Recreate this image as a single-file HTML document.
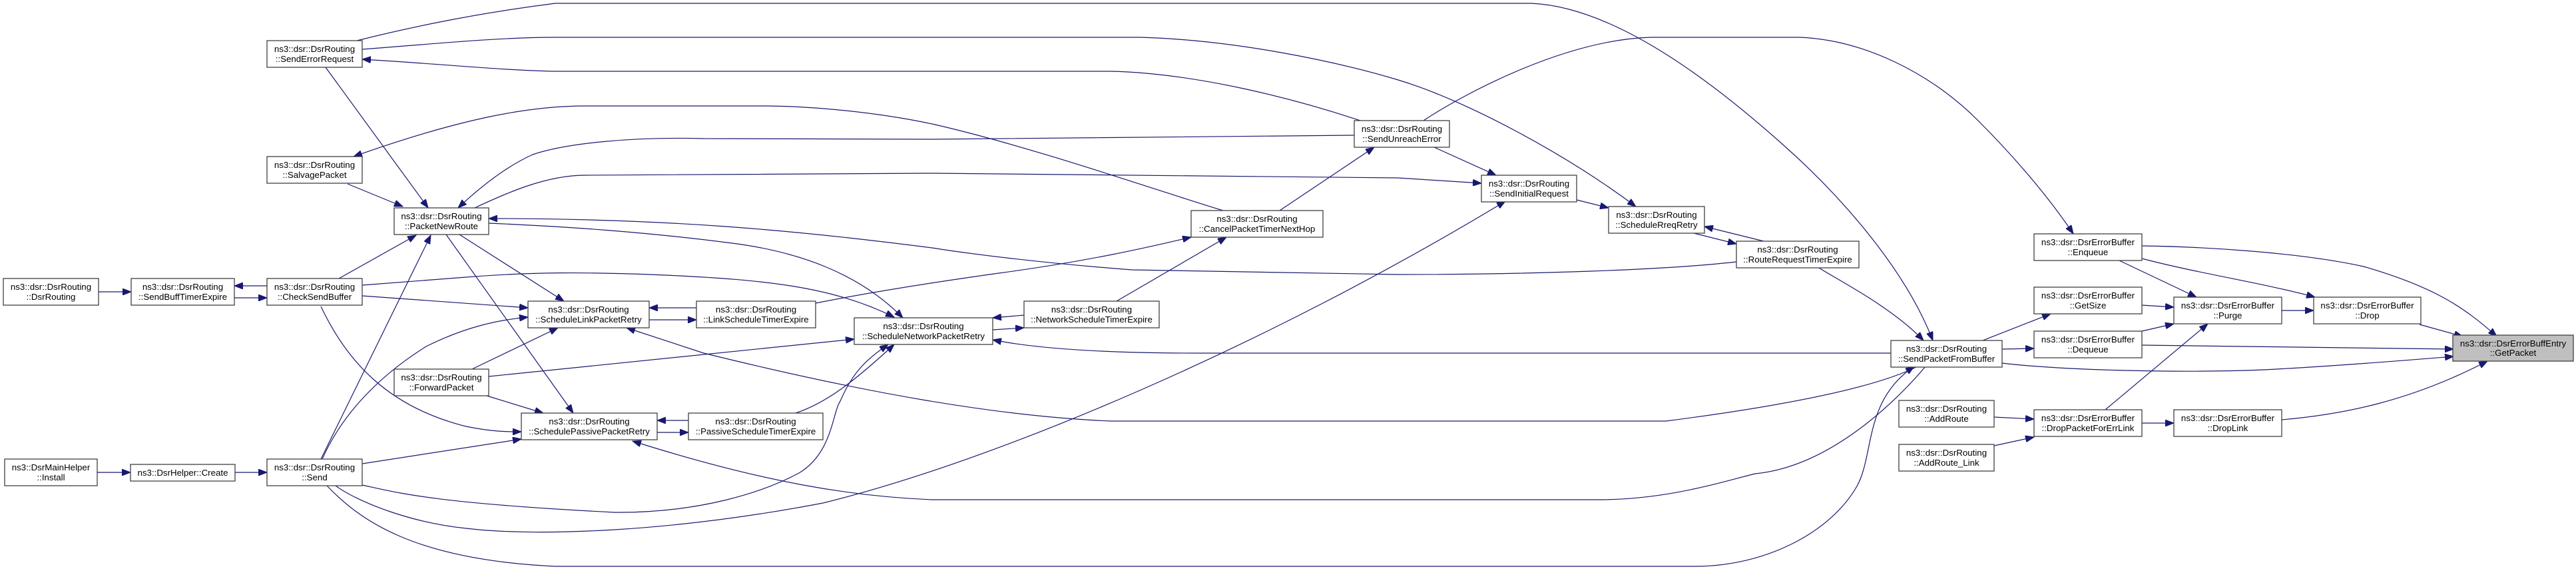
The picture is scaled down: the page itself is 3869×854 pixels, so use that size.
<!DOCTYPE html>
<html><head><meta charset="utf-8"><style>
html,body{margin:0;padding:0;background:#fff;}
svg{display:block;}
text{font-family:"Liberation Sans",Arial,sans-serif;font-size:13.3px;fill:#000;text-anchor:middle;}
.b{fill:#fff;stroke:#404040;stroke-width:1.3;}
.g{fill:#bfbfbf;stroke:#404040;stroke-width:1.3;}
.e{fill:none;stroke:#191970;stroke-width:1.2;marker-end:url(#a);}
</style></head><body>
<svg width="3869" height="854" viewBox="0 0 3869 854" xmlns="http://www.w3.org/2000/svg">
<defs><marker id="a" markerUnits="userSpaceOnUse" markerWidth="14" markerHeight="10" refX="13" refY="5" orient="auto"><path d="M0,0 L13,5 L0,10 z" fill="#191970" stroke="#191970"/></marker></defs>

<!-- edges -->
<path class="e" d="M148,438 L197,438"/>
<path class="e" d="M401,429 L352,429"/>
<path class="e" d="M352,447 L401,447"/>
<path class="e" d="M146,709 L196,709"/>
<path class="e" d="M353,709 L401,709"/>
<path class="e" d="M489,101 L643,312"/>
<path class="e" d="M522,276 L605,310"/>
<path class="e" d="M509,418 L625,353"/>
<path class="e" d="M482,689 L647,353"/>
<path class="e" d="M484,689 C510,630 560,570 640,520 C700,490 750,480 793,476"/>
<path class="e" d="M544,444 L793,462"/>
<path class="e" d="M544,428 L700,416 C800,408 880,408 1000,413 C1150,420 1250,430 1343,476"/>
<path class="e" d="M690,352 L847,452"/>
<path class="e" d="M670,352 L861,620"/>
<path class="e" d="M734,335 C850,340 968,348 1100,365 C1200,378 1290,410 1356,477"/>
<path class="e" d="M2608,393 C2502,405 2300,412 2100,412 L1700,405 C1556,394 1450,380 1400,372 C1191,345 1000,328 734,328"/>
<path class="e" d="M2034,203 L1400,209 L1057,208 C950,205 850,215 800,232 C760,250 720,282 688,312"/>
<path class="e" d="M713,312 C760,290 820,263 879,263 L1400,260 L2100,267 L2225,275"/>
<path class="e" d="M1837,316 C1750,290 1550,220 1400,186 C1300,165 1200,159 1146,159 L879,159 C800,159 700,175 531,235"/>
<path class="e" d="M536,61 C600,45 700,22 834,5 L2300,5 C2412,10 2546,99 2680,219 C2760,290 2860,400 2903,511"/>
<path class="e" d="M544,74 C650,66 750,56 834,56 L1713,56 C1850,60 2000,90 2100,120 C2200,150 2350,230 2457,310"/>
<path class="e" d="M2043,181 C1950,150 1800,110 1668,107 L834,107 C760,106 650,95 544,89"/>
<path class="e" d="M2138,181 C2200,140 2350,60 2479,56 L2703,56 C2800,60 2900,110 2971,181 C3030,240 3080,300 3114,351"/>
<path class="e" d="M2154,221 L2247,263"/>
<path class="e" d="M1922,316 L2064,221"/>
<path class="e" d="M504,729 C540,755 620,785 700,793 C800,805 1000,800 1236,755 C1500,690 1900,520 2261,302"/>
<path class="e" d="M482,460 C520,540 580,610 700,640 C740,648 760,648 783,648"/>
<path class="e" d="M544,696 L783,659"/>
<path class="e" d="M544,728 C600,740 650,755 923,769 C1050,770 1146,739 1200,710 C1250,680 1250,620 1262,602 C1280,560 1300,540 1334,517"/>
<path class="e" d="M1195,620 C1240,605 1280,575 1343,517"/>
<path class="e" d="M491,729 C540,780 620,840 834,850 L2546,850 C2650,850 2750,800 2790,728 C2815,680 2800,600 2875,550"/>
<path class="e" d="M2892,550 C2850,600 2750,700 2636,711 C2580,725 2502,750 2400,750 L1400,750 C1280,745 1150,725 950,662"/>
<path class="e" d="M2880,550 C2840,570 2750,600 2502,632 L1668,632 C1500,625 1300,590 1057,530 L941,492"/>
<path class="e" d="M2840,530 L1800,530 C1650,530 1550,522 1491,510"/>
<path class="e" d="M1538,473 L1491,477"/>
<path class="e" d="M1491,495 L1538,492"/>
<path class="e" d="M1677,452 L1842,356"/>
<path class="e" d="M1225,455 C1300,440 1400,424 1500,410 C1650,390 1750,365 1789,356"/>
<path class="e" d="M1046,462 L975,462"/>
<path class="e" d="M975,480 L1046,480"/>
<path class="e" d="M1034,631 L987,631"/>
<path class="e" d="M987,649 L1034,649"/>
<path class="e" d="M734,565 L1283,509"/>
<path class="e" d="M709,554 L838,492"/>
<path class="e" d="M731,594 L816,620"/>
<path class="e" d="M2368,300 L2416,312"/>
<path class="e" d="M2649,362 L2560,340"/>
<path class="e" d="M2540,349 L2608,366"/>
<path class="e" d="M2732,402 C2760,420 2840,460 2889,511"/>
<path class="e" d="M2978,511 L3080,471"/>
<path class="e" d="M3007,524 L3055,523"/>
<path class="e" d="M3007,545 C3100,556 3278,560 3400,555 C3500,550 3600,542 3685,535"/>
<path class="e" d="M3183,391 L3299,446"/>
<path class="e" d="M3217,388 C3300,410 3400,425 3477,446"/>
<path class="e" d="M3217,369 C3300,370 3450,378 3550,400 C3654,430 3700,460 3750,505"/>
<path class="e" d="M3217,458 L3265,461"/>
<path class="e" d="M3217,497 L3265,486"/>
<path class="e" d="M3217,518 L3685,524"/>
<path class="e" d="M3427,466 L3475,466"/>
<path class="e" d="M3634,487 L3699,505"/>
<path class="e" d="M3162,615 L3316,486"/>
<path class="e" d="M3217,635 L3265,635"/>
<path class="e" d="M3427,630 C3520,622 3620,602 3736,542"/>
<path class="e" d="M2995,626 L3055,629"/>
<path class="e" d="M2995,669 L3055,656"/>

<!-- nodes -->
<g>
<rect class="b" x="401" y="61" width="143" height="40"/><text x="472.5" y="78">ns3::dsr::DsrRouting</text><text x="472.5" y="93">::SendErrorRequest</text>
<rect class="b" x="401" y="235" width="143" height="40"/><text x="472.5" y="252">ns3::dsr::DsrRouting</text><text x="472.5" y="267">::SalvagePacket</text>
<rect class="b" x="592" y="312" width="142" height="40"/><text x="663" y="329">ns3::dsr::DsrRouting</text><text x="663" y="344">::PacketNewRoute</text>
<rect class="b" x="5" y="418" width="143" height="40"/><text x="76.5" y="435">ns3::dsr::DsrRouting</text><text x="76.5" y="450">::DsrRouting</text>
<rect class="b" x="197" y="418" width="155" height="40"/><text x="274.5" y="435">ns3::dsr::DsrRouting</text><text x="274.5" y="450">::SendBuffTimerExpire</text>
<rect class="b" x="401" y="418" width="143" height="40"/><text x="472.5" y="435">ns3::dsr::DsrRouting</text><text x="472.5" y="450">::CheckSendBuffer</text>
<rect class="b" x="592" y="554" width="142" height="40"/><text x="663" y="571">ns3::dsr::DsrRouting</text><text x="663" y="586">::ForwardPacket</text>
<rect class="b" x="7" y="689" width="139" height="40"/><text x="76.5" y="706">ns3::DsrMainHelper</text><text x="76.5" y="721">::Install</text>
<rect class="b" x="196" y="697" width="157" height="25"/><text x="274.5" y="714">ns3::DsrHelper::Create</text>
<rect class="b" x="401" y="689" width="143" height="40"/><text x="472.5" y="706">ns3::dsr::DsrRouting</text><text x="472.5" y="721">::Send</text>
<rect class="b" x="793" y="452" width="182" height="40"/><text x="884" y="469">ns3::dsr::DsrRouting</text><text x="884" y="484">::ScheduleLinkPacketRetry</text>
<rect class="b" x="1046" y="452" width="179" height="40"/><text x="1135.5" y="469">ns3::dsr::DsrRouting</text><text x="1135.5" y="484">::LinkScheduleTimerExpire</text>
<rect class="b" x="1283" y="477" width="208" height="40"/><text x="1387" y="494">ns3::dsr::DsrRouting</text><text x="1387" y="509">::ScheduleNetworkPacketRetry</text>
<rect class="b" x="783" y="620" width="204" height="40"/><text x="885" y="637">ns3::dsr::DsrRouting</text><text x="885" y="652">::SchedulePassivePacketRetry</text>
<rect class="b" x="1034" y="620" width="202" height="40"/><text x="1135" y="637">ns3::dsr::DsrRouting</text><text x="1135" y="652">::PassiveScheduleTimerExpire</text>
<rect class="b" x="1789" y="316" width="198" height="40"/><text x="1888" y="333">ns3::dsr::DsrRouting</text><text x="1888" y="348">::CancelPacketTimerNextHop</text>
<rect class="b" x="1538" y="452" width="203" height="40"/><text x="1639.5" y="469">ns3::dsr::DsrRouting</text><text x="1639.5" y="484">::NetworkScheduleTimerExpire</text>
<rect class="b" x="2034" y="181" width="143" height="40"/><text x="2105.5" y="198">ns3::dsr::DsrRouting</text><text x="2105.5" y="213">::SendUnreachError</text>
<rect class="b" x="2225" y="263" width="143" height="40"/><text x="2296.5" y="280">ns3::dsr::DsrRouting</text><text x="2296.5" y="295">::SendInitialRequest</text>
<rect class="b" x="2416" y="310" width="144" height="40"/><text x="2488" y="327">ns3::dsr::DsrRouting</text><text x="2488" y="342">::ScheduleRreqRetry</text>
<rect class="b" x="2608" y="362" width="184" height="40"/><text x="2700" y="379">ns3::dsr::DsrRouting</text><text x="2700" y="394">::RouteRequestTimerExpire</text>
<rect class="b" x="2840" y="511" width="167" height="40"/><text x="2923.5" y="528">ns3::dsr::DsrRouting</text><text x="2923.5" y="543">::SendPacketFromBuffer</text>
<rect class="b" x="3055" y="351" width="162" height="40"/><text x="3136" y="368">ns3::dsr::DsrErrorBuffer</text><text x="3136" y="383">::Enqueue</text>
<rect class="b" x="3055" y="431" width="162" height="40"/><text x="3136" y="448">ns3::dsr::DsrErrorBuffer</text><text x="3136" y="463">::GetSize</text>
<rect class="b" x="3055" y="497" width="162" height="40"/><text x="3136" y="514">ns3::dsr::DsrErrorBuffer</text><text x="3136" y="529">::Dequeue</text>
<rect class="b" x="3265" y="446" width="162" height="40"/><text x="3346" y="463">ns3::dsr::DsrErrorBuffer</text><text x="3346" y="478">::Purge</text>
<rect class="b" x="3475" y="446" width="161" height="40"/><text x="3555.5" y="463">ns3::dsr::DsrErrorBuffer</text><text x="3555.5" y="478">::Drop</text>
<rect class="g" x="3684" y="503" width="181" height="39"/><text x="3774.5" y="520">ns3::dsr::DsrErrorBuffEntry</text><text x="3774.5" y="534">::GetPacket</text>
<rect class="b" x="2852" y="601" width="143" height="40"/><text x="2923.5" y="618">ns3::dsr::DsrRouting</text><text x="2923.5" y="633">::AddRoute</text>
<rect class="b" x="2852" y="667" width="143" height="40"/><text x="2923.5" y="684">ns3::dsr::DsrRouting</text><text x="2923.5" y="699">::AddRoute_Link</text>
<rect class="b" x="3055" y="615" width="162" height="40"/><text x="3136" y="632">ns3::dsr::DsrErrorBuffer</text><text x="3136" y="647">::DropPacketForErrLink</text>
<rect class="b" x="3265" y="615" width="162" height="40"/><text x="3346" y="632">ns3::dsr::DsrErrorBuffer</text><text x="3346" y="647">::DropLink</text>
</g>
</svg>
</body></html>
